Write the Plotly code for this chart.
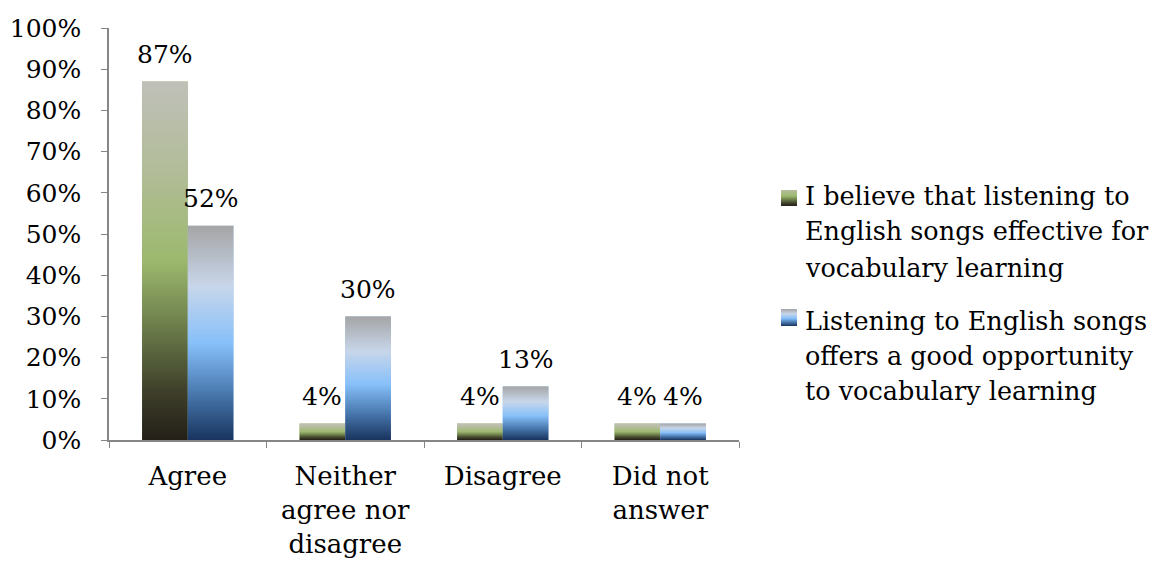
import base64
import struct
import zlib

import plotly.graph_objects as go

# Survey categories and percentages for each statement
categories = ["Agree", "Neither<br>agree nor<br>disagree", "Disagree", "Did not<br>answer"]
series_lines = [
    ["I believe that listening to", "English songs effective for", "vocabulary learning"],
    ["Listening to English songs", "offers a good opportunity", "to vocabulary learning"],
]
believe_effective = [0.87, 0.04, 0.04, 0.04]
good_opportunity = [0.52, 0.30, 0.13, 0.04]
y_ticks = [0.0, 0.1, 0.2, 0.3, 0.4, 0.5, 0.6, 0.7, 0.8, 0.9, 1.0]

FONT = "DejaVu Serif"

# Vertical gradient stops, top (t=0) to bottom (t=1)
green_stops = [(0.0, (191, 192, 185)), (0.25, (178, 188, 152)), (0.5, (156, 185, 110)),
               (0.7, (104, 120, 72)), (0.87, (62, 63, 42)), (1.0, (36, 32, 24))]
blue_stops = [(0.0, (166, 166, 166)), (0.28, (200, 214, 234)), (0.55, (135, 192, 250)),
              (0.78, (74, 122, 176)), (1.0, (26, 53, 96))]


def grad(stops, t):
    for (t0, c0), (t1, c1) in zip(stops[:-1], stops[1:]):
        if t0 <= t <= t1:
            f = (t - t0) / (t1 - t0) if t1 > t0 else 0
            return tuple(round(a + (b - a) * f) for a, b in zip(c0, c1))
    return stops[-1][1]


def gradient_png(stops, t_from=0.0, t_to=1.0, rows=128):
    """Tiny 2-pixel-wide PNG holding a vertical colour ramp, as a data URI."""
    raw = b""
    for r in range(rows):
        t = t_from + (t_to - t_from) * r / (rows - 1)
        raw += b"\x00" + bytes(grad(stops, t)) * 2

    def chunk(tag, data):
        return (struct.pack(">I", len(data)) + tag + data
                + struct.pack(">I", zlib.crc32(tag + data) & 0xFFFFFFFF))

    png = (b"\x89PNG\r\n\x1a\n"
           + chunk(b"IHDR", struct.pack(">IIBBBBB", 2, rows, 8, 2, 0, 0, 0))
           + chunk(b"IDAT", zlib.compress(raw))
           + chunk(b"IEND", b""))
    return "data:image/png;base64," + base64.b64encode(png).decode()


BARGAP = 0.42
half = (1 - BARGAP) / 2  # width of one bar in category units

fig = go.Figure()
series = [(believe_effective, green_stops, -1), (good_opportunity, blue_stops, 1)]
for values, stops, side in series:
    fig.add_trace(go.Bar(
        x=categories, y=values, showlegend=False, hoverinfo="skip",
        marker=dict(color="rgb(%d,%d,%d)" % grad(stops, 0.5), line=dict(width=0)),
    ))
    src = gradient_png(stops)
    for i, v in enumerate(values):
        # gradient overlay stretched over the bar
        fig.add_layout_image(source=src, xref="x", yref="y",
                             x=i + (-half if side < 0 else 0), y=v, sizex=half, sizey=v,
                             xanchor="left", yanchor="top", sizing="stretch", layer="above")
        # value label above the bar
        fig.add_annotation(x=i + side * half / 2, y=v, xref="x", yref="y", showarrow=False,
                           text="%d%%" % round(v * 100), yanchor="middle", yshift=27,
                           font=dict(family=FONT, size=25, color="black"))

# legend: gradient swatches and wrapped text lines
PX0, PW, PY0, PH = 109, 630, 440, 412


def px(xp):
    return (xp - PX0) / PW


def py(yp):
    return (PY0 - yp) / PH


legend_rows = [
    (green_stops, 0.2, 190, 206, [196, 231, 268], series_lines[0]),
    (blue_stops, 0.0, 309, 326, [321, 356, 391], series_lines[1]),
]
for stops, t0, sw_top, sw_bot, centers, lines in legend_rows:
    fig.add_layout_image(source=gradient_png(stops, t0, 1.0), xref="paper", yref="paper",
                         x=px(781), y=py(sw_top), sizex=px(797) - px(781),
                         sizey=py(sw_top) - py(sw_bot), xanchor="left", yanchor="top",
                         sizing="stretch", layer="above")
    for yc, line in zip(centers, lines):
        fig.add_annotation(xref="paper", yref="paper", x=px(803), y=py(yc), xanchor="left",
                           yanchor="middle", showarrow=False, text=line,
                           font=dict(family=FONT, size=25.5, color="black"))

fig.update_layout(
    width=1152, height=568,
    margin=dict(l=109, r=413, t=28, b=128),
    paper_bgcolor="white", plot_bgcolor="white",
    barmode="group", bargap=BARGAP, bargroupgap=0,
    showlegend=False,
    font=dict(family=FONT, size=26, color="black"),
    xaxis=dict(
        range=[-0.5, 3.5], showline=True, linecolor="#868686", linewidth=1.5,
        ticks="outside", tickson="boundaries", ticklen=6, tickcolor="#868686",
        tickfont=dict(family=FONT, size=26, color="black"), showgrid=False, zeroline=False,
        automargin=False, ticklabelstandoff=12,
    ),
    yaxis=dict(
        range=[0, 1], tickvals=y_ticks, tickformat=".0%", showline=True,
        linecolor="#868686", linewidth=1.5, ticks="outside", ticklen=6, tickcolor="#868686",
        tickfont=dict(family=FONT, size=25, color="black"), showgrid=False, zeroline=False,
        automargin=False, ticklabelstandoff=15,
    ),
)

fig.write_html("out.html")
